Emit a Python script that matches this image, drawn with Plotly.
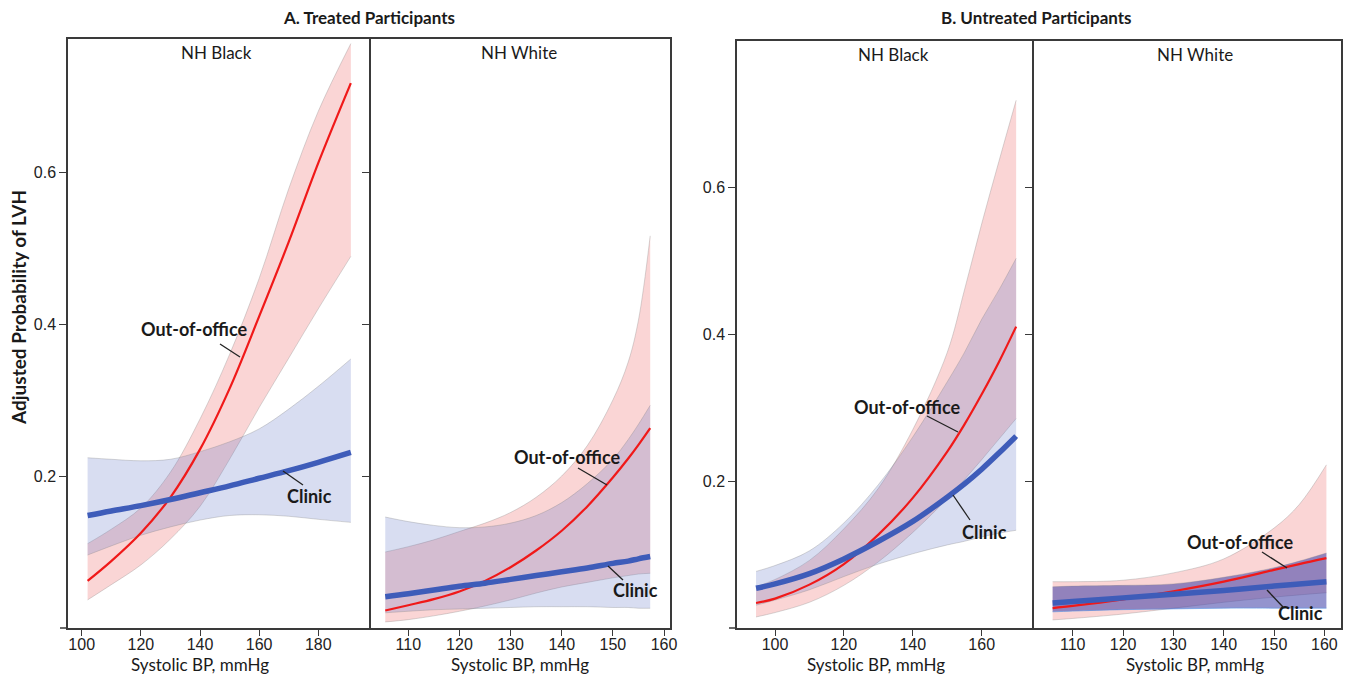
import plotly.graph_objects as go

# ---------------- data ----------------
# A. Treated participants - NH Black
a_blk_x = [102, 110, 120, 130, 140, 150, 160, 170, 180, 191]
a_blk_ooo = [0.062, 0.088, 0.125, 0.172, 0.235, 0.315, 0.41, 0.508, 0.612, 0.717]
a_blk_ooo_lo = [0.037, 0.057, 0.083, 0.117, 0.16, 0.222, 0.29, 0.355, 0.42, 0.489]
a_blk_ooo_hi = [0.111, 0.13, 0.158, 0.205, 0.275, 0.36, 0.46, 0.578, 0.68, 0.769]
a_blk_cli = [0.148, 0.154, 0.161, 0.169, 0.178, 0.187, 0.197, 0.207, 0.218, 0.231]
a_blk_cli_lo = [0.096, 0.108, 0.122, 0.133, 0.142, 0.148, 0.149, 0.147, 0.143, 0.139]
a_blk_cli_hi = [0.224, 0.222, 0.22, 0.222, 0.232, 0.245, 0.262, 0.288, 0.318, 0.354]

# A. Treated participants - NH White
a_wht_x = [105.5, 110, 115, 120, 125, 130, 135, 140, 145, 150, 153, 155, 157.3]
a_wht_ooo = [0.023, 0.03, 0.038, 0.048, 0.062, 0.08, 0.102, 0.128, 0.16, 0.198, 0.223, 0.241, 0.263]
a_wht_ooo_lo = [0.008, 0.011, 0.016, 0.022, 0.029, 0.037, 0.046, 0.054, 0.06, 0.066, 0.069, 0.071, 0.072]
a_wht_ooo_hi = [0.100, 0.107, 0.116, 0.127, 0.138, 0.152, 0.172, 0.2, 0.24, 0.3, 0.35, 0.405, 0.516]
a_wht_cli = [0.041, 0.045, 0.05, 0.055, 0.059, 0.064, 0.069, 0.074, 0.079, 0.085, 0.088, 0.091, 0.094]
a_wht_cli_lo = [0.02, 0.022, 0.024, 0.025, 0.026, 0.027, 0.028, 0.028, 0.028, 0.027, 0.027, 0.026, 0.026]
a_wht_cli_hi = [0.146, 0.14, 0.135, 0.132, 0.133, 0.138, 0.148, 0.165, 0.19, 0.222, 0.248, 0.268, 0.293]

# B. Untreated participants - NH Black
b_blk_x = [94.5, 100, 110, 120, 130, 140, 150, 155, 160, 165, 170]
b_blk_ooo = [0.034, 0.04, 0.059, 0.087, 0.127, 0.177, 0.24, 0.277, 0.318, 0.362, 0.41]
b_blk_ooo_lo = [0.015, 0.021, 0.035, 0.058, 0.09, 0.13, 0.176, 0.202, 0.229, 0.257, 0.285]
b_blk_ooo_hi = [0.056, 0.066, 0.092, 0.135, 0.19, 0.27, 0.375, 0.46, 0.55, 0.635, 0.718]
b_blk_cli = [0.054, 0.06, 0.074, 0.094, 0.118, 0.145, 0.178, 0.196, 0.216, 0.238, 0.261]
b_blk_cli_lo = [0.031, 0.038, 0.052, 0.07, 0.087, 0.101, 0.113, 0.118, 0.124, 0.129, 0.133]
b_blk_cli_hi = [0.077, 0.085, 0.105, 0.143, 0.195, 0.26, 0.335, 0.375, 0.42, 0.46, 0.503]

# B. Untreated participants - NH White
b_wht_x = [106, 110, 120, 130, 140, 150, 155, 160.4]
b_wht_ooo = [0.027, 0.03, 0.039, 0.05, 0.063, 0.079, 0.087, 0.095]
b_wht_ooo_lo = [0.011, 0.013, 0.019, 0.027, 0.035, 0.042, 0.045, 0.048]
b_wht_ooo_hi = [0.063, 0.063, 0.065, 0.075, 0.094, 0.136, 0.168, 0.222]
b_wht_cli = [0.034, 0.036, 0.041, 0.046, 0.051, 0.057, 0.060, 0.063]
b_wht_cli_lo = [0.022, 0.023, 0.025, 0.026, 0.027, 0.027, 0.027, 0.027]
b_wht_cli_hi = [0.056, 0.057, 0.058, 0.06, 0.069, 0.082, 0.091, 0.102]

y_tickvals = [0.2, 0.4, 0.6]
y_ticktext = ["0.2", "0.4", "0.6"]
xticks_black_a = [100, 120, 140, 160, 180]
xticks_white = [110, 120, 130, 140, 150, 160]
xticks_black_b = [100, 120, 140, 160]

# ---------------- styling ----------------
RED = "rgb(240,25,25)"
BLUE = "rgb(62,92,185)"
PINK_FILL = "rgba(235,100,100,0.27)"
LAV_FILL = "rgba(100,120,200,0.25)"
DARK_LAV_FILL = "rgba(70,70,170,0.58)"
EDGE = "rgba(130,130,130,0.45)"
AXC = "#3a3a3a"
TXT = "Lato, 'Open Sans', sans-serif"
NUM = "'Liberation Sans', Arial, sans-serif"

# page has an 8px body margin; work in reference-pixel coordinates and shift
OFF = 8
VW, VH = 1357, 684
W, H = VW - OFF, VH - OFF


def px(x):
    return (x - OFF) / W


def py(y):
    return 1 - (y - OFF) / H


fig = go.Figure()


def add_panel(xs, ooo, ooo_lo, ooo_hi, cli, cli_lo, cli_hi, xa, ya, blue_fill=LAV_FILL, blue_edge=EDGE):
    fig.add_trace(go.Scatter(x=xs, y=ooo_lo, mode="lines", line=dict(color=EDGE, width=0.7, shape="spline"),
                             xaxis=xa, yaxis=ya, showlegend=False, hoverinfo="skip"))
    fig.add_trace(go.Scatter(x=xs, y=ooo_hi, mode="lines", line=dict(color=EDGE, width=0.7, shape="spline"),
                             fill="tonexty", fillcolor=PINK_FILL,
                             xaxis=xa, yaxis=ya, showlegend=False, hoverinfo="skip"))
    fig.add_trace(go.Scatter(x=xs, y=cli_lo, mode="lines", line=dict(color=blue_edge, width=0.7, shape="spline"),
                             xaxis=xa, yaxis=ya, showlegend=False, hoverinfo="skip"))
    fig.add_trace(go.Scatter(x=xs, y=cli_hi, mode="lines", line=dict(color=EDGE, width=0.7, shape="spline"),
                             fill="tonexty", fillcolor=blue_fill,
                             xaxis=xa, yaxis=ya, showlegend=False, hoverinfo="skip"))
    fig.add_trace(go.Scatter(x=xs, y=ooo, mode="lines", line=dict(color=RED, width=2.2, shape="spline"),
                             xaxis=xa, yaxis=ya, name="Out-of-office", showlegend=False))
    fig.add_trace(go.Scatter(x=xs, y=cli, mode="lines", line=dict(color=BLUE, width=5.5, shape="spline"),
                             xaxis=xa, yaxis=ya, name="Clinic", showlegend=False))


add_panel(a_blk_x, a_blk_ooo, a_blk_ooo_lo, a_blk_ooo_hi, a_blk_cli, a_blk_cli_lo, a_blk_cli_hi, "x", "y")
add_panel(a_wht_x, a_wht_ooo, a_wht_ooo_lo, a_wht_ooo_hi, a_wht_cli, a_wht_cli_lo, a_wht_cli_hi, "x2", "y2")
add_panel(b_blk_x, b_blk_ooo, b_blk_ooo_lo, b_blk_ooo_hi, b_blk_cli, b_blk_cli_lo, b_blk_cli_hi, "x3", "y3")
add_panel(b_wht_x, b_wht_ooo, b_wht_ooo_lo, b_wht_ooo_hi, b_wht_cli, b_wht_cli_lo, b_wht_cli_hi, "x4", "y4",
          blue_fill=DARK_LAV_FILL, blue_edge="rgba(90,150,230,0.9)")

# empty traces so the inner mirror-tick axes get drawn
fig.add_trace(go.Scatter(x=[], y=[], xaxis="x", yaxis="y5", showlegend=False))
fig.add_trace(go.Scatter(x=[], y=[], xaxis="x3", yaxis="y6", showlegend=False))

A_TOP, B_TOP, BOT = 39, 41, 628
A_RANGE = [0, (BOT - A_TOP) / 760]
B_RANGE = [0, (BOT - B_TOP) / 735]


def xax(dom, rng, ticks):
    return dict(domain=dom, range=rng, tickvals=ticks, showline=True, linecolor=AXC, linewidth=1.5,
                mirror=True, ticks="outside", ticklen=6, tickwidth=1.2, tickcolor=AXC,
                ticklabelstandoff=-5,
                showgrid=False, zeroline=False, tickfont=dict(family=NUM, size=16, color="#222"))


def yax_left(dom, rng, anchor):
    return dict(domain=dom, range=rng, anchor=anchor, showline=True, linecolor=AXC, linewidth=1.5,
                mirror=True, showgrid=False, zeroline=False,
                tickvals=y_tickvals, ticktext=y_ticktext, ticks="outside", ticklen=7, tickwidth=1.2,
                tickcolor=AXC, tickfont=dict(family=NUM, size=16, color="#222"))


def yax_right(dom, rng, anchor):
    return dict(domain=dom, range=rng, anchor=anchor, side="right", showline=True, linecolor=AXC,
                linewidth=1.5, mirror=False, showgrid=False, zeroline=False, showticklabels=False, ticks="")


ydomA = [py(BOT), py(A_TOP)]
ydomB = [py(BOT), py(B_TOP)]

fig.update_layout(
    width=W, height=H, margin=dict(l=0, r=0, t=0, b=0, autoexpand=False),
    paper_bgcolor="white", plot_bgcolor="rgba(0,0,0,0)", showlegend=False,
    xaxis=dict(**xax([px(68), px(369)], [95.37, 197.14], xticks_black_a), anchor="y"),
    xaxis2=dict(**xax([px(369), px(670)], [102.32, 161.17], xticks_white), anchor="y2"),
    xaxis3=dict(**xax([px(737), px(1032)], [88.97, 174.6], xticks_black_b), anchor="y3"),
    xaxis4=dict(**xax([px(1032), px(1341)], [101.9, 163.3], xticks_white), anchor="y4"),
    yaxis=yax_left(ydomA, A_RANGE, "x"),
    yaxis2=yax_right(ydomA, A_RANGE, "x2"),
    yaxis3=yax_left(ydomB, B_RANGE, "x3"),
    yaxis4=yax_right(ydomB, B_RANGE, "x4"),
    yaxis5=dict(overlaying="y", side="right", anchor="x", range=A_RANGE, tickvals=y_tickvals,
                ticks="inside", ticklen=7, tickwidth=1.2, tickcolor=AXC, showticklabels=False,
                showgrid=False, zeroline=False, showline=False),
    yaxis6=dict(overlaying="y3", side="right", anchor="x3", range=B_RANGE, tickvals=y_tickvals,
                ticks="inside", ticklen=7, tickwidth=1.2, tickcolor=AXC, showticklabels=False,
                showgrid=False, zeroline=False, showline=False),
)

ann = []


def text(x, y, s, size=17, bold=False, angle=0, color="#1a1a1a"):
    ann.append(dict(x=px(x), y=py(y), xref="paper", yref="paper", text=f"<b>{s}</b>" if bold else s,
                    showarrow=False, textangle=angle, xanchor="center", yanchor="middle",
                    font=dict(family=TXT, size=size, color=color)))


text(369, 17, "A. Treated Participants", 17, True)
text(1036, 17, "B. Untreated Participants", 17, True)
text(18, 308, "Adjusted Probability of LVH", 19, True, angle=-90)
text(216, 53, "NH Black", 17)
text(519, 53, "NH White", 17)
text(893, 55, "NH Black", 17)
text(1195, 55, "NH White", 17)
for cx in (200, 520, 876, 1195):
    text(cx, 664, "Systolic BP, mmHg", 17)

# curve labels
text(194, 329, "Out-of-office", 18, True)
text(309, 496, "Clinic", 18, True)
text(567, 457, "Out-of-office", 18, True)
text(635, 590, "Clinic", 18, True)
text(907, 407, "Out-of-office", 18, True)
text(984, 532, "Clinic", 18, True)
text(1240, 542, "Out-of-office", 18, True)
text(1300, 613, "Clinic", 18, True)

shapes = []
for (x0, y0, x1, y1) in [(220, 344, 240, 357), (283, 471, 303, 485), (578, 468, 607, 485), (608, 566, 623, 580),
                         (927, 416, 958, 432), (953, 495, 970, 520), (1262, 552, 1287, 568),
                         (1267, 590, 1283, 607)]:
    shapes.append(dict(type="line", xref="paper", yref="paper", x0=px(x0), y0=py(y0), x1=px(x1), y1=py(y1),
                       line=dict(color="#222", width=1.3)))
for (x0, x1) in [(60, 68), (729, 737)]:
    shapes.append(dict(type="line", xref="paper", yref="paper", x0=px(x0), y0=py(BOT), x1=px(x1), y1=py(BOT),
                       line=dict(color=AXC, width=1.5)))

fig.update_layout(annotations=ann, shapes=shapes)
fig.write_html("out.html")
